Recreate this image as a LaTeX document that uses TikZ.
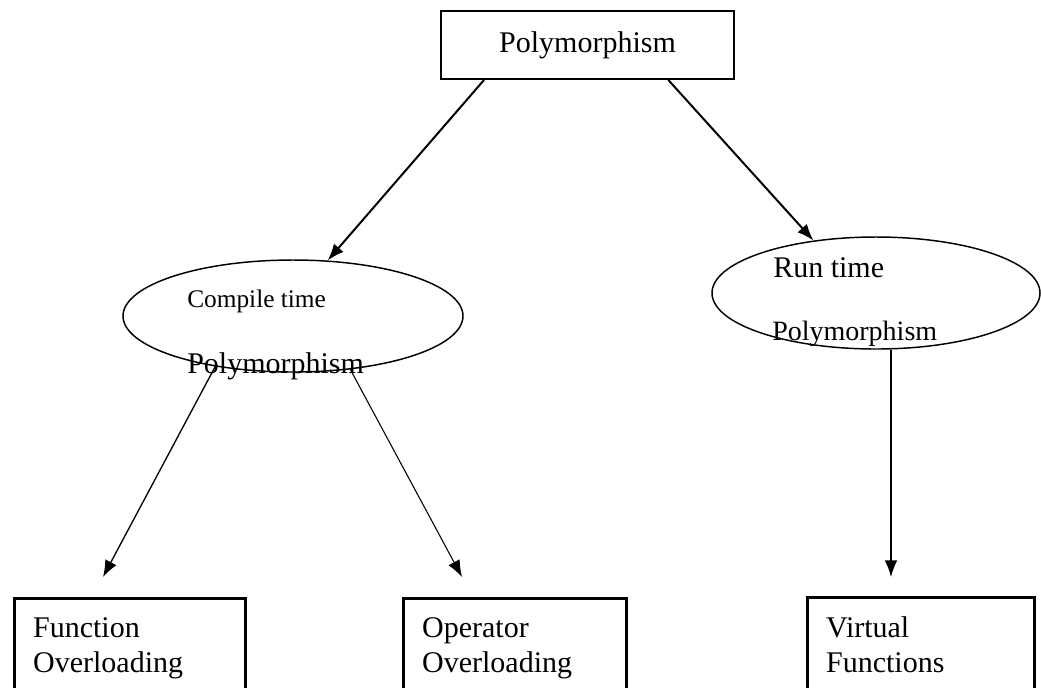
\documentclass[tikz,border=0pt]{standalone}
\usepackage{fontspec}
\setmainfont{Liberation Serif}
\usetikzlibrary{arrows.meta,shapes}

\begin{document}
\begin{tikzpicture}[x=0.75pt, y=-0.75pt,
  >={Latex[length=12.5pt,width=9.5pt]},
  big/.style={font=\fontsize{22.5}{26.25}\selectfont},
  oval/.style={draw, ellipse, line width=1.1pt, minimum width=255pt, minimum height=84pt, inner sep=0pt},
  leaf/.style={draw, big, line width=2.2pt, anchor=north west, minimum width=172pt, minimum height=75pt,
    text width=145pt, inner xsep=14pt, align=left, execute at end node={\vphantom{g}}}]
\useasboundingbox (0,0) rectangle (1041,687);
\clip (0,0) rectangle (1041,687);

\node[draw, big, line width=1.5pt, minimum width=219.75pt, minimum height=51pt] (poly) at (587.5,45) {Polymorphism};

\node[oval] (ct) at (293,316) {};
\node[anchor=base west, font=\fontsize{19}{22}\selectfont, inner sep=0pt] (ctA) at (187,307) {Compile time};
\node[anchor=base west, big, inner sep=0pt] (ctB) at (187,373) {Polymorphism};

\node[oval, minimum width=246pt] (rt) at (876,293) {};
\node[anchor=base west, big, inner sep=0pt] (rtA) at (773,277) {Run time};
\node[anchor=base west, font=\fontsize{21}{25}\selectfont, inner sep=0pt] (rtB) at (772,340) {Polymorphism};

\node[leaf] (fo) at (13,597) {Function\\Overloading};
\node[leaf, minimum width=166pt, text width=139pt] (oo) at (402,597) {Operator\\Overloading};
\node[leaf, minimum width=169pt, text width=142pt] (vf) at (806,596) {Virtual\\Functions};

\coordinate (foTip) at (103,577);
\coordinate (ooTip) at (462,577);
\coordinate (vfTip) at (891,577);

\draw[->, line width=1.5pt] ([xshift=33pt]poly.south west) -- (ct.58);
\draw[->, line width=1.5pt] ([xshift=-50pt]poly.south east) -- (rt.140);

\draw[->, line width=1pt] (ct.213) -- (foTip);
\draw[->, line width=0.8pt] (ct.317) -- (ooTip);
\draw[->, line width=1pt] (vfTip |- rt.south) -- (vfTip);

\end{tikzpicture}
\end{document}
